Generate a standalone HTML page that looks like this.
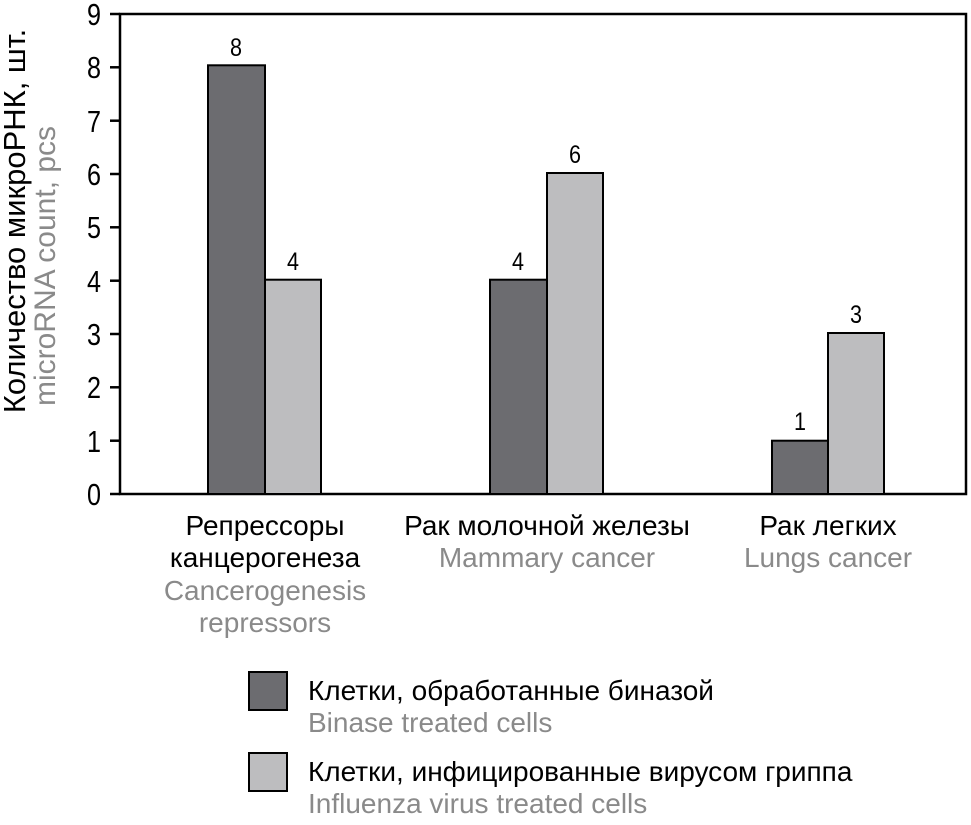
<!DOCTYPE html>
<html><head><meta charset="utf-8"><style>
body{margin:0;background:#fff}
svg text{font-family:"Liberation Sans",sans-serif}
</style></head><body>
<svg width="971" height="820" viewBox="0 0 971 820" xmlns="http://www.w3.org/2000/svg">
<rect x="0" y="0" width="971" height="820" fill="#fff"/>
<g stroke="#000" stroke-width="2.5">
<rect x="120" y="14" width="846" height="480" fill="none"/>
<line x1="110" y1="494" x2="120" y2="494"/>
<line x1="110" y1="440.7" x2="120" y2="440.7"/>
<line x1="110" y1="387.3" x2="120" y2="387.3"/>
<line x1="110" y1="334" x2="120" y2="334"/>
<line x1="110" y1="280.7" x2="120" y2="280.7"/>
<line x1="110" y1="227.3" x2="120" y2="227.3"/>
<line x1="110" y1="174" x2="120" y2="174"/>
<line x1="110" y1="120.7" x2="120" y2="120.7"/>
<line x1="110" y1="67.3" x2="120" y2="67.3"/>
<line x1="110" y1="14" x2="120" y2="14"/>
</g>
<g font-size="31" fill="#000">
<text x="87" y="505" textLength="14" lengthAdjust="spacingAndGlyphs">0</text>
<text x="87" y="452" textLength="14" lengthAdjust="spacingAndGlyphs">1</text>
<text x="87" y="398" textLength="14" lengthAdjust="spacingAndGlyphs">2</text>
<text x="87" y="345" textLength="14" lengthAdjust="spacingAndGlyphs">3</text>
<text x="87" y="292" textLength="14" lengthAdjust="spacingAndGlyphs">4</text>
<text x="87" y="238" textLength="14" lengthAdjust="spacingAndGlyphs">5</text>
<text x="87" y="185" textLength="14" lengthAdjust="spacingAndGlyphs">6</text>
<text x="87" y="132" textLength="14" lengthAdjust="spacingAndGlyphs">7</text>
<text x="87" y="78" textLength="14" lengthAdjust="spacingAndGlyphs">8</text>
<text x="87" y="25" textLength="14" lengthAdjust="spacingAndGlyphs">9</text>
</g>
<g stroke="#000" stroke-width="2">
<rect x="208" y="65.3" width="57" height="428.7" fill="#6c6c70"/>
<rect x="265" y="279.7" width="56" height="214.3" fill="#bdbdbf"/>
<rect x="490" y="279.7" width="57" height="214.3" fill="#6c6c70"/>
<rect x="547" y="173" width="56" height="321" fill="#bdbdbf"/>
<rect x="772" y="440.7" width="56" height="53.3" fill="#6c6c70"/>
<rect x="828" y="333" width="56" height="161" fill="#bdbdbf"/>
</g>
<g font-size="25" fill="#000">
<text x="230" y="56" textLength="12" lengthAdjust="spacingAndGlyphs">8</text>
<text x="287" y="270" textLength="12" lengthAdjust="spacingAndGlyphs">4</text>
<text x="512" y="270" textLength="12" lengthAdjust="spacingAndGlyphs">4</text>
<text x="569" y="163" textLength="12" lengthAdjust="spacingAndGlyphs">6</text>
<text x="794" y="430" textLength="12" lengthAdjust="spacingAndGlyphs">1</text>
<text x="850" y="323" textLength="12" lengthAdjust="spacingAndGlyphs">3</text>
</g>
<g font-size="28" text-anchor="middle">
<text x="265" y="535" fill="#000">Репрессоры</text>
<text x="265" y="567" fill="#000">канцерогенеза</text>
<text x="265" y="600" fill="#8a8a8a">Cancerogenesis</text>
<text x="265" y="632" fill="#8a8a8a">repressors</text>
<text x="547" y="535" fill="#000">Рак молочной железы</text>
<text x="547" y="567" fill="#8a8a8a">Mammary cancer</text>
<text x="828" y="535" fill="#000">Рак легких</text>
<text x="828" y="567" fill="#8a8a8a">Lungs cancer</text>
</g>
<g text-anchor="middle">
<text transform="translate(25,221) rotate(-90)" font-size="31" fill="#000">Количество микроРНК, шт.</text>
<text transform="translate(55,266) rotate(-90)" font-size="30" fill="#8a8a8a">microRNA count, pcs</text>
</g>
<g stroke="#000" stroke-width="2">
<rect x="249" y="672" width="38" height="38" fill="#6c6c70"/>
<rect x="249" y="753" width="38" height="38" fill="#bdbdbf"/>
</g>
<g font-size="28">
<text x="308" y="700" fill="#000">Клетки, обработанные биназой</text>
<text x="308" y="732" fill="#8a8a8a">Binase treated cells</text>
<text x="308" y="781" fill="#000">Клетки, инфицированные вирусом гриппа</text>
<text x="308" y="813" fill="#8a8a8a">Influenza virus treated cells</text>
</g>
</svg>
</body></html>
